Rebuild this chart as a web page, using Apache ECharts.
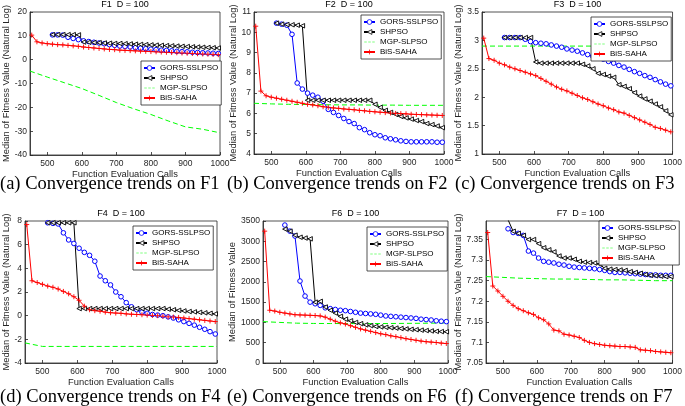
<!DOCTYPE html>
<html>
<head>
<meta charset="utf-8">
<script src="https://cdn.jsdelivr.net/npm/echarts@6.0.0/dist/echarts.min.js"></script>
<style>
  html, body { margin: 0; padding: 0; background: #fff; }
  #chart { width: 685px; height: 406px; }
</style>
</head>
<body>
<div id="chart"></div>
<script>
// evaluation counts where each algorithm was sampled
var EVALS_BIS = [455, 470, 485, 500, 515, 530, 545, 560, 575, 590, 605, 620, 635, 650, 665, 680, 695, 710, 725,
  740, 755, 770, 785, 800, 815, 830, 845, 860, 875, 890, 905, 920, 935, 950, 965, 980, 995];
var EVALS_PSO = [515, 530, 545, 560, 575, 590, 605, 620, 635, 650, 665, 680, 695, 710, 725, 740, 755, 770, 785,
  800, 815, 830, 845, 860, 875, 890, 905, 920, 935, 950, 965, 980, 995];
var EVALS_MGP = [450, 500, 550, 600, 650, 700, 750, 800, 850, 900, 950, 1000];
var X_TICKS = [500, 600, 700, 800, 900, 1000];

var SERIES_NAMES = ['GORS-SSLPSO', 'SHPSO', 'MGP-SLPSO', 'BiS-SAHA'];
var PANEL_TITLES = ['F1  D = 100', 'F2  D = 100', 'F3  D = 100', 'F4  D = 100', 'F6  D = 100', 'F7  D = 100'];
var CAPTIONS = ['(a) Convergence trends on F1', '(b) Convergence trends on F2', '(c) Convergence trends on F3',
  '(d) Convergence trends on F4', '(e) Convergence trends on F6', '(f) Convergence trends on F7'];
var Y_NAMES = ['Median of Fitness Value (Natural Log)', 'Median of Fitness Value (Natural Log)',
  'Median of Fitness Value (Natural Log)', 'Median of Fitness Value (Natural Log)',
  'Median of Fitness Value', 'Median of Fitness Value (Natural Log)'];
var Y_MIN = [-40, 4, 1, -4, 0, 7.05];
var Y_MAX = [20, 11, 3.5, 8, 3500, 7.395];
var Y_STEP = [10, 1, 0.5, 2, 500, 0.05];

// F1
var F1_GORS = [10.4, 10.4, 10.3, 9.4, 8.9, 8.4, 7.9, 7.6, 7.3, 7.0, 6.7, 6.3, 6.0, 5.7, 5.5, 5.3, 5.0, 4.8, 4.6,
  4.4, 4.2, 4.0, 3.9, 3.7, 3.5, 3.4, 3.3, 3.1, 3.0, 2.9, 2.8, 2.7, 2.6];
var F1_SHPSO = [10.5, 10.5, 10.5, 10.5, 10.5, 10.4, 7.4, 7.3, 7.2, 7.1, 7.0, 6.9, 6.8, 6.8, 6.7, 6.6, 6.5, 6.4,
  6.3, 6.2, 6.1, 6.0, 5.9, 5.8, 5.7, 5.6, 5.5, 5.4, 5.3, 5.2, 5.1, 5.0, 4.9];
var F1_MGP = [-4.8, -7.3, -9.7, -12.1, -15.0, -18.0, -20.6, -23.0, -25.7, -28.2, -29.2, -30.7];
var F1_BIS = [10.3, 7.5, 7.0, 6.7, 6.5, 6.3, 6.2, 6.0, 5.8, 5.6, 5.3, 5.1, 4.9, 4.7, 4.5, 4.3, 4.2, 4.0, 3.9, 3.8,
  3.7, 3.6, 3.5, 3.4, 3.3, 3.2, 3.1, 3.0, 2.9, 2.8, 2.7, 2.6, 2.5, 2.4, 2.3, 2.2, 2.1];

// F2
var F2_GORS = [10.45, 10.4, 10.35, 9.9, 7.5, 7.2, 7.0, 6.9, 6.8, 6.6, 6.2, 6.05, 5.9, 5.75, 5.6, 5.5, 5.3, 5.2,
  5.05, 4.95, 4.9, 4.8, 4.75, 4.7, 4.65, 4.62, 4.6, 4.6, 4.6, 4.6, 4.6, 4.58, 4.58];
var F2_SHPSO = [10.45, 10.4, 10.38, 10.37, 10.35, 10.32, 6.65, 6.65, 6.65, 6.65, 6.65, 6.65, 6.65, 6.65, 6.65,
  6.65, 6.65, 6.65, 6.65, 6.45, 6.3, 6.15, 6.05, 5.95, 5.85, 5.78, 5.72, 5.65, 5.6, 5.5, 5.45, 5.38, 5.3];
var F2_MGP = [6.5, 6.47, 6.45, 6.44, 6.43, 6.42, 6.42, 6.41, 6.41, 6.4, 6.4, 6.4];
var F2_BIS = [10.3, 7.1, 6.87, 6.8, 6.75, 6.7, 6.65, 6.6, 6.55, 6.5, 6.45, 6.42, 6.38, 6.33, 6.3, 6.27, 6.25, 6.22,
  6.2, 6.18, 6.15, 6.13, 6.1, 6.08, 6.06, 6.04, 6.02, 6.0, 5.99, 5.98, 5.96, 5.95, 5.94, 5.93, 5.92, 5.91, 5.9];

// F3
var F3_GORS = [3.05, 3.05, 3.05, 3.05, 3.02, 2.98, 2.96, 2.95, 2.94, 2.92, 2.9, 2.88, 2.85, 2.83, 2.81, 2.78,
  2.75, 2.72, 2.7, 2.67, 2.63, 2.6, 2.56, 2.53, 2.49, 2.45, 2.42, 2.38, 2.35, 2.31, 2.27, 2.23, 2.2];
var F3_SHPSO = [3.05, 3.05, 3.05, 3.05, 3.05, 3.05, 2.62, 2.6, 2.6, 2.6, 2.6, 2.6, 2.6, 2.6, 2.6, 2.58, 2.55,
  2.5, 2.42, 2.4, 2.37, 2.35, 2.22, 2.19, 2.15, 2.08, 2.02, 1.97, 1.93, 1.88, 1.83, 1.76, 1.69];
var F3_MGP = [2.9, 2.9, 2.9, 2.9, 2.9, 2.9, 2.9, 2.9, 2.9, 2.9, 2.9, 2.9];
var F3_BIS = [3.04, 2.68, 2.65, 2.6, 2.57, 2.53, 2.5, 2.47, 2.44, 2.41, 2.38, 2.33, 2.28, 2.23, 2.18, 2.14, 2.11,
  2.07, 2.03, 1.99, 1.96, 1.92, 1.88, 1.85, 1.81, 1.78, 1.74, 1.72, 1.68, 1.64, 1.6, 1.56, 1.52, 1.47, 1.45, 1.42, 1.39];

// F4
var F4_GORS = [7.85, 7.8, 7.75, 7.0, 6.4, 6.1, 5.7, 5.35, 5.1, 4.6, 3.35, 2.95, 2.6, 2.0, 1.6, 1.1, 0.75, 0.5,
  0.3, 0.2, 0.1, 0.05, 0.0, -0.1, -0.2, -0.35, -0.5, -0.65, -0.8, -0.98, -1.15, -1.35, -1.55];
var F4_SHPSO = [7.85, 7.85, 7.85, 7.85, 7.85, 7.85, 0.6, 0.6, 0.6, 0.6, 0.6, 0.6, 0.6, 0.6, 0.6, 0.6, 0.6, 0.6,
  0.6, 0.6, 0.6, 0.6, 0.6, 0.55, 0.5, 0.45, 0.4, 0.35, 0.32, 0.28, 0.24, 0.2, 0.15];
var F4_MGP = [-2.3, -2.6, -2.6, -2.6, -2.6, -2.6, -2.6, -2.6, -2.6, -2.6, -2.6, -2.6];
var F4_BIS = [7.7, 2.95, 2.8, 2.65, 2.5, 2.4, 2.25, 2.05, 1.85, 1.6, 1.3, 0.8, 0.5, 0.42, 0.38, 0.3, 0.25, 0.22,
  0.2, 0.15, 0.12, 0.1, 0.08, 0.05, 0.02, 0.0, -0.05, -0.1, -0.12, -0.15, -0.2, -0.25, -0.3, -0.35, -0.4, -0.45, -0.5];

// F6
var F6_GORS = [3400, 3250, 3130, 2020, 1650, 1500, 1460, 1420, 1360, 1340, 1320, 1300, 1290, 1270, 1250, 1230,
  1220, 1210, 1200, 1180, 1160, 1150, 1140, 1130, 1120, 1110, 1100, 1080, 1070, 1060, 1040, 1030, 1020];
var F6_SHPSO = [3300, 3250, 3150, 3100, 3080, 3060, 1500, 1520, 1380, 1300, 1230, 1150, 1080, 1040, 1000, 970,
  940, 920, 900, 890, 880, 870, 860, 850, 840, 830, 820, 810, 800, 790, 780, 775, 770];
var F6_MGP = [1020, 1000, 982, 975, 973, 972, 972, 973, 975, 978, 982, 985];
var F6_BIS = [3250, 1300, 1280, 1250, 1230, 1210, 1190, 1185, 1180, 1175, 1170, 1160, 1130, 1080, 1030, 990, 960,
  920, 880, 840, 810, 780, 750, 720, 700, 670, 650, 625, 600, 580, 560, 540, 525, 515, 505, 490, 480];

// F7
var F7_GORS = [7.376, 7.367, 7.365, 7.36, 7.322, 7.317, 7.305, 7.297, 7.295, 7.293, 7.29, 7.288, 7.285, 7.283,
  7.282, 7.281, 7.28, 7.279, 7.277, 7.275, 7.272, 7.27, 7.27, 7.269, 7.268, 7.267, 7.266, 7.265, 7.264, 7.264,
  7.263, 7.263, 7.263];
var F7_SHPSO = [7.398, 7.37, 7.365, 7.36, 7.35, 7.35, 7.34, 7.33, 7.325, 7.32, 7.31, 7.305, 7.305, 7.302, 7.297,
  7.295, 7.294, 7.293, 7.29, 7.28, 7.278, 7.277, 7.276, 7.275, 7.272, 7.27, 7.268, 7.265, 7.263, 7.262, 7.261,
  7.26, 7.26];
var F7_MGP = [7.26, 7.258, 7.256, 7.255, 7.254, 7.254, 7.253, 7.252, 7.252, 7.251, 7.25, 7.25];
var F7_BIS = [7.367, 7.237, 7.225, 7.212, 7.2, 7.19, 7.182, 7.177, 7.172, 7.168, 7.16, 7.155, 7.145, 7.13, 7.128,
  7.12, 7.118, 7.115, 7.112, 7.105, 7.1, 7.097, 7.095, 7.093, 7.092, 7.091, 7.09, 7.09, 7.089, 7.088, 7.082,
  7.081, 7.08, 7.078, 7.077, 7.076, 7.075];

var PANEL_DATA = [
  [F1_GORS, F1_SHPSO, F1_MGP, F1_BIS],
  [F2_GORS, F2_SHPSO, F2_MGP, F2_BIS],
  [F3_GORS, F3_SHPSO, F3_MGP, F3_BIS],
  [F4_GORS, F4_SHPSO, F4_MGP, F4_BIS],
  [F6_GORS, F6_SHPSO, F6_MGP, F6_BIS],
  [F7_GORS, F7_SHPSO, F7_MGP, F7_BIS]
];

// layout (pixels)
var GRIDS = [
  { left: 30, top: 12, width: 190, height: 143 },
  { left: 254, top: 12, width: 190, height: 142 },
  { left: 482, top: 12, width: 191, height: 142 },
  { left: 25, top: 221, width: 192, height: 142 },
  { left: 263, top: 221, width: 185, height: 142 },
  { left: 486, top: 221, width: 189, height: 142 }
];
var LEGEND_POS = [[141, 61], [361, 15], [591, 17], [133, 226], [367, 227], [599, 221]];
var Y_NAME_GAP = [18, 15.5, 17.5, 14.5, 24.5, 22.5];
var TITLE_Y = [5, 5, 5, 214, 214, 214];
var CAPTION_POS = [[0, 184], [227, 184], [455, 184], [0, 397], [227, 397], [455, 397]];

var FONT = '"Liberation Sans", Arial, Helvetica, sans-serif';
var INK = '#262626';

// legend sample for the dashed series: three short dashes, two zero-size dots keep the box height
var DASH_ICON = 'path://M0,0L0.01,0L0,0.01ZM0,12L0.01,12L0,11.99Z' +
  'M0,5.3L5,5.3L5,6.7L0,6.7ZM8,5.3L13,5.3L13,6.7L8,6.7ZM16,5.3L21,5.3L21,6.7L16,6.7Z';

function pairs(xs, ys) {
  return xs.map(function(x, i) { return [x, ys[i]]; });
}

function plainNumber(v) {
  return String(+v.toFixed(4));
}

var chart = echarts.init(document.getElementById('chart'), null, { renderer: 'canvas' });

var xAxes = [], yAxes = [], series = [], legends = [], graphics = [];

GRIDS.forEach(function(g, i) {
  var bottomRow = i >= 3;
  xAxes.push({
    type: 'value',
    gridIndex: i,
    min: 450,
    max: 1000,
    name: 'Function Evaluation Calls',
    nameLocation: 'middle',
    nameGap: bottomRow ? 15 : 14.5,
    nameTextStyle: { fontFamily: FONT, fontSize: 9.4, color: INK },
    axisLine: { show: true, onZero: false, lineStyle: { color: INK, width: 0.8 } },
    axisTick: { show: true, inside: true, length: 3, customValues: X_TICKS, lineStyle: { color: INK, width: 0.8 } },
    axisLabel: { customValues: X_TICKS, fontFamily: FONT, fontSize: 8.5, color: INK, margin: 4.5, formatter: plainNumber },
    splitLine: { show: false }
  });
  yAxes.push({
    type: 'value',
    gridIndex: i,
    min: Y_MIN[i],
    max: Y_MAX[i],
    interval: Y_STEP[i],
    name: Y_NAMES[i],
    nameLocation: 'middle',
    nameGap: Y_NAME_GAP[i],
    nameTextStyle: { fontFamily: FONT, fontSize: 9.4, color: INK },
    axisLine: { show: true, onZero: false, lineStyle: { color: INK, width: 0.8 } },
    axisTick: { show: true, inside: true, length: 3, lineStyle: { color: INK, width: 0.8 } },
    axisLabel: {
      fontFamily: FONT, fontSize: 8.5, color: INK, margin: 3, formatter: plainNumber,
      showMaxLabel: i === 5 ? false : null
    },
    splitLine: { show: false }
  });

  var d = PANEL_DATA[i];
  series.push({
    name: 'GORS-SSLPSO', type: 'line', xAxisIndex: i, yAxisIndex: i,
    data: pairs(EVALS_PSO, d[0]),
    symbol: 'circle', symbolSize: 4.6, showAllSymbol: true,
    lineStyle: { color: '#0000ff', width: 1 },
    itemStyle: { color: '#ffffff', borderColor: '#0000ff', borderWidth: 1 }
  });
  series.push({
    name: 'SHPSO', type: 'line', xAxisIndex: i, yAxisIndex: i,
    data: pairs(EVALS_PSO, d[1]),
    symbol: 'path://M0,5L10,0L10,10Z', symbolSize: 4.5, showAllSymbol: true,
    lineStyle: { color: '#000000', width: 1 },
    itemStyle: { color: '#ffffff', borderColor: '#000000', borderWidth: 0.9 }
  });
  series.push({
    name: 'MGP-SLPSO', type: 'line', xAxisIndex: i, yAxisIndex: i,
    data: pairs(EVALS_MGP, d[2]),
    symbol: 'none',
    lineStyle: { color: '#00ff00', width: 1, type: [5, 3] },
    itemStyle: { color: '#00ff00' }
  });
  series.push({
    name: 'BiS-SAHA', type: 'line', xAxisIndex: i, yAxisIndex: i,
    data: pairs(EVALS_BIS, d[3]),
    symbol: 'path://M5,0L5,10M0,5L10,5', symbolSize: 5, showAllSymbol: true,
    lineStyle: { color: '#ff0000', width: 1 },
    itemStyle: { color: '#ff0000', borderColor: '#ff0000', borderWidth: 0.9 }
  });

  legends.push({
    orient: 'vertical',
    left: LEGEND_POS[i][0],
    top: LEGEND_POS[i][1],
    data: [
      { name: SERIES_NAMES[0], itemStyle: { color: '#ffffff', borderColor: '#0000ff', borderWidth: 0.8 } },
      { name: SERIES_NAMES[1], itemStyle: { color: '#ffffff', borderColor: '#000000', borderWidth: 0.8 } },
      { name: SERIES_NAMES[2], icon: DASH_ICON, itemStyle: { color: '#00ff00', borderWidth: 0 } },
      { name: SERIES_NAMES[3], itemStyle: { color: '#ff0000', borderColor: '#ff0000', borderWidth: 0.8 } }
    ],
    itemWidth: 11,
    itemHeight: 6,
    itemGap: 2,
    padding: [3, 3, 3, 2],
    backgroundColor: '#ffffff',
    borderColor: INK,
    borderWidth: 0.8,
    borderRadius: 0,
    selectedMode: false,
    textStyle: { fontFamily: FONT, fontSize: 8, color: '#000' }
  });

  graphics.push({
    type: 'text',
    x: g.left + g.width / 2,
    y: TITLE_Y[i],
    style: {
      text: PANEL_TITLES[i], fill: '#000', font: '9px ' + FONT,
      align: 'center', verticalAlign: 'middle', textAlign: 'center', textVerticalAlign: 'middle'
    }
  });
  graphics.push({
    type: 'text',
    x: CAPTION_POS[i][0],
    y: CAPTION_POS[i][1],
    style: {
      text: CAPTIONS[i], fill: '#000', font: '18.5px "Liberation Serif", "DejaVu Serif", serif',
      align: 'left', verticalAlign: 'middle', textAlign: 'left', textVerticalAlign: 'middle'
    }
  });
});

chart.setOption({
  animation: false,
  backgroundColor: '#ffffff',
  grid: GRIDS.map(function(g) {
    return { left: g.left, top: g.top, width: g.width, height: g.height, show: true,
      borderColor: INK, borderWidth: 0.8, backgroundColor: '#ffffff' };
  }),
  xAxis: xAxes,
  yAxis: yAxes,
  legend: legends,
  graphic: graphics,
  series: series
});
</script>
</body>
</html>
